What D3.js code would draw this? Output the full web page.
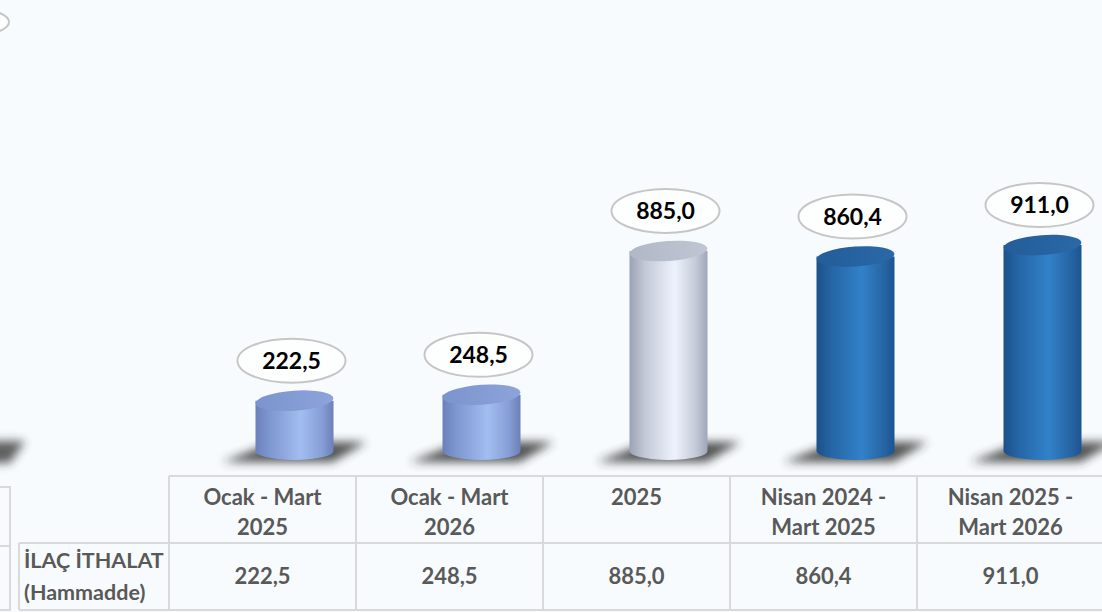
<!DOCTYPE html>
<html><head><meta charset="utf-8">
<script src="https://cdn.jsdelivr.net/npm/d3@7"></script>
<style>
html,body{margin:0;padding:0;background:#f7fbfd;}
svg{display:block;}
text{font-family:Lato,"Open Sans",sans-serif;}
</style></head>
<body>
<svg id="chart" width="1102" height="612"></svg>
<script>
const categories = [["Ocak - Mart","2025"],["Ocak - Mart","2026"],["2025"],["Nisan 2024 -","Mart 2025"],["Nisan 2025 -","Mart 2026"]];
const values = [222.5, 248.5, 885.0, 860.4, 911.0];
const seriesName = ["İLAÇ İTHALAT","(Hammadde)"];
const styles = ["light","light","white","dark","dark"];

const fmt = v => v.toFixed(1).replace(".", ",");
const W = 1102, H = 612;
const svg = d3.select("#chart");
svg.append("rect").attr("width",W).attr("height",H).attr("fill","#f7fbfd");

const ids = categories.map((c,i)=>"c"+i);
const x = d3.scaleBand().domain(ids).range([169, 1104]).paddingInner(0).paddingOuter(0);
const y = d3.scaleLinear().domain([0, 1000]).range([451, 225]);
const bw = 78, barShift = 32;

const defs = svg.append("defs");
const pal = {
  light: {stops:[["0%","#6a80ba"],["18%","#7e97d0"],["58%","#a2bdf0"],["85%","#869fd6"],["100%","#6b80b7"]], top:"#7c94cd", top2:"#8ca4da"},
  white: {stops:[["0%","#9aa2b5"],["20%","#c3c9d7"],["58%","#eef2fd"],["85%","#c4cad8"],["100%","#9ea6b8"]], top:"#b0b7c6", top2:"#c0c6d3"},
  dark:  {stops:[["0%","#1b5189"],["20%","#2566a6"],["58%","#3281c9"],["85%","#2766a5"],["100%","#1c5590"]], top:"#235d9a", top2:"#2a68a6"}
};
Object.entries(pal).forEach(([k,p])=>{
  const g = defs.append("linearGradient").attr("id","g-"+k).attr("x1","0").attr("x2","1").attr("y1","0").attr("y2","0");
  p.stops.forEach(s=>g.append("stop").attr("offset",s[0]).attr("stop-color",s[1]));
  const t = defs.append("linearGradient").attr("id","t-"+k).attr("x1","0").attr("x2","1").attr("y1","0").attr("y2","0");
  t.append("stop").attr("offset","0%").attr("stop-color",p.top);
  t.append("stop").attr("offset","100%").attr("stop-color",p.top2);
});
const blur = defs.append("filter").attr("id","blur").attr("x","-50%").attr("y","-100%").attr("width","200%").attr("height","300%");
blur.append("feGaussianBlur").attr("stdDeviation",5);

// decorative partial elements of cropped neighbour (left edge)
svg.append("path").attr("d","M-60,441 L25,441 L10,463 L-60,463 Z").attr("fill","#2a2a2a").attr("opacity",0.75).attr("filter","url(#blur)");
svg.append("ellipse").attr("cx",-45).attr("cy",22).attr("rx",54).attr("ry",16).attr("fill","#fdfefe").attr("stroke","#c6c6c6").attr("stroke-width",2);

// bars
const base = y(0);
const gBars = svg.append("g");
values.forEach((v,i)=>{
  const cx = x(ids[i]) + x.bandwidth()/2 + barShift;
  const l = cx - bw/2, r = cx + bw/2;
  const top = y(v);
  const st = styles[i];
  const g = gBars.append("g");
  // shadow
  g.append("path")
    .attr("d",`M${cx-20},${base-9} L${cx+72},${base-9} L${cx+38},${base+11} L${cx-72},${base+11} Z`)
    .attr("fill","#2a2a2a").attr("opacity",0.8).attr("filter","url(#blur)");
  // body
  g.append("path")
    .attr("d",`M${l},${top} L${l},${base} A${bw/2},9 0 0 0 ${r},${base} L${r},${top} Z`)
    .attr("fill",`url(#g-${st})`);
  // top
  g.append("ellipse").attr("cx",cx).attr("cy",top).attr("rx",bw/2).attr("ry",10)
    .attr("transform",`rotate(-4,${cx},${top})`)
    .attr("fill",`url(#t-${st})`);
  // label
  const ly = top - 40;
  g.append("ellipse").attr("cx",cx-3).attr("cy",ly).attr("rx",54).attr("ry",22)
    .attr("fill","#fdfefe").attr("stroke","#c6c6c6").attr("stroke-width",2);
  g.append("text").attr("x",cx-3).attr("y",ly).attr("dy","0.35em").attr("text-anchor","middle")
    .attr("font-size",23).attr("font-weight",700).attr("fill","#000").text(fmt(v));
});

// table
const tTop = 476, tMid = 543, tBot = 610;
const lineC = "#d9d9d9";
const gt = svg.append("g");
const x0 = x.range()[0], x1 = x.range()[1];
gt.append("line").attr("x1",x0).attr("x2",x1).attr("y1",tTop).attr("y2",tTop).attr("stroke",lineC).attr("stroke-width",2);
gt.append("line").attr("x1",19).attr("x2",x1).attr("y1",tMid).attr("y2",tMid).attr("stroke",lineC).attr("stroke-width",2);
gt.append("line").attr("x1",19).attr("x2",x1).attr("y1",tBot).attr("y2",tBot).attr("stroke",lineC).attr("stroke-width",2);
gt.append("line").attr("x1",19).attr("x2",19).attr("y1",tMid).attr("y2",tBot).attr("stroke",lineC).attr("stroke-width",2);
ids.forEach(id=>{
  gt.append("line").attr("x1",x(id)).attr("x2",x(id)).attr("y1",tTop).attr("y2",tBot).attr("stroke",lineC).attr("stroke-width",2);
});
// partial neighbour table at left edge
gt.append("path").attr("d","M-5,487 L10,487 L10,611 M-5,546 L10,546 M-5,610 L10,610").attr("fill","none").attr("stroke",lineC).attr("stroke-width",2);

categories.forEach((c,i)=>{
  const cx = x(ids[i]) + x.bandwidth()/2;
  c.forEach((t,j)=>{
    gt.append("text").attr("x",cx).attr("y",497 + j*30).attr("dy","0.35em").attr("text-anchor","middle")
      .attr("font-size",22).attr("font-weight",700).attr("fill","#595959").text(t);
  });
  gt.append("text").attr("x",cx).attr("y",(tMid+tBot)/2).attr("dy","0.35em").attr("text-anchor","middle")
    .attr("font-size",22).attr("font-weight",700).attr("fill","#595959").text(fmt(values[i]));
});
seriesName.forEach((t,j)=>{
  gt.append("text").attr("x",24).attr("y",560 + j*32).attr("dy","0.35em")
    .attr("font-size",21.5).attr("font-weight",700).attr("fill","#595959").text(t);
});
</script>
</body></html>
